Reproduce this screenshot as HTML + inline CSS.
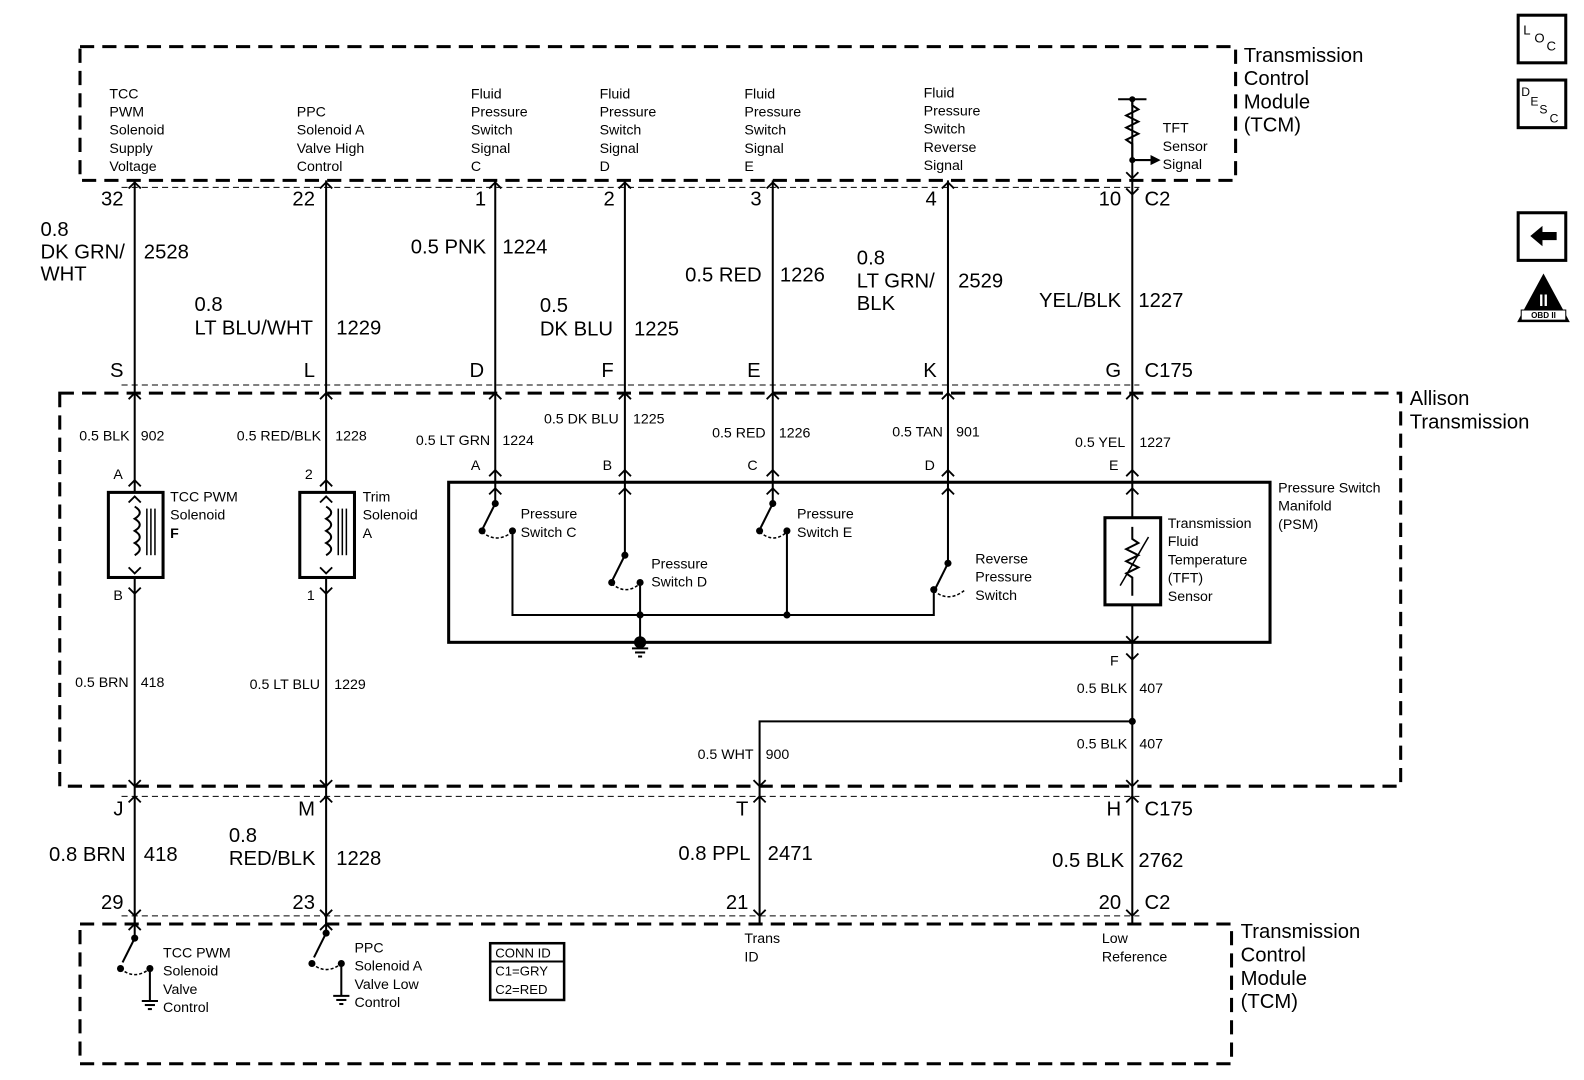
<!DOCTYPE html>
<html><head><meta charset="utf-8"><style>
html,body{margin:0;padding:0;background:#fff;}
svg{display:block;}
text{font-family:"Liberation Sans",Arial,sans-serif;fill:#000;}
.s{font-size:14px;}
.l{font-size:20px;}
.t{font-size:20px;}
</style></head><body>
<svg width="1584" height="1080" viewBox="0 0 1564 1066" preserveAspectRatio="none" xmlns="http://www.w3.org/2000/svg">
<g fill="none" stroke="#000">
<rect x="79" y="46" width="1141" height="132" stroke-width="3" stroke-dasharray="14,8"/>
<rect x="59" y="388" width="1324" height="388" stroke-width="3" stroke-dasharray="14,8"/>
<rect x="79" y="912" width="1137" height="138" stroke-width="3" stroke-dasharray="14,8"/>
<line x1="120" y1="185" x2="1125" y2="185" stroke-width="1" stroke-dasharray="6,4"/>
<line x1="120" y1="380" x2="1125" y2="380" stroke-width="1" stroke-dasharray="6,4"/>
<line x1="120" y1="786" x2="1125" y2="786" stroke-width="1" stroke-dasharray="6,4"/>
<line x1="120" y1="904" x2="1125" y2="904" stroke-width="1" stroke-dasharray="6,4"/>
<g stroke-width="2">
<line x1="133" y1="178" x2="133" y2="486"/>
<line x1="322" y1="178" x2="322" y2="486"/>
<line x1="489" y1="178" x2="489" y2="497"/>
<line x1="617" y1="178" x2="617" y2="548"/>
<line x1="763" y1="178" x2="763" y2="497"/>
<line x1="936" y1="178" x2="936" y2="556"/>
<line x1="1118" y1="98" x2="1118" y2="511"/>
<line x1="1118" y1="597" x2="1118" y2="912"/>
<line x1="133" y1="570" x2="133" y2="912"/>
<line x1="322" y1="570" x2="322" y2="912"/>
<polyline points="1118,712 750,712 750,912"/>
</g>
<rect x="107" y="486" width="54" height="84" stroke-width="3"/>
<rect x="296" y="486" width="54" height="84" stroke-width="3"/>
<path d="M133,500 q10,6 0,12 q10,6 0,12 q10,6 0,12 q10,6 0,12" stroke-width="2" fill="#fff"/>
<path d="M322,500 q10,6 0,12 q10,6 0,12 q10,6 0,12 q10,6 0,12" stroke-width="2" fill="#fff"/>
<g stroke-width="1.5">
<line x1="145" y1="502" x2="145" y2="548"/><line x1="149" y1="502" x2="149" y2="548"/><line x1="153" y1="502" x2="153" y2="548"/>
<line x1="334" y1="502" x2="334" y2="548"/><line x1="338" y1="502" x2="338" y2="548"/><line x1="342" y1="502" x2="342" y2="548"/>
</g>
<rect x="443" y="476" width="811" height="158" stroke-width="3"/>
<g stroke-width="2">
<line x1="489" y1="497" x2="477" y2="521"/>
<line x1="763" y1="497" x2="751" y2="521"/>
<line x1="617" y1="548" x2="605" y2="572"/>
<line x1="936" y1="556" x2="924" y2="580"/>
<polyline points="506,524 506,607 922,607 922,582"/>
<line x1="632" y1="575" x2="632" y2="634"/>
<line x1="777" y1="524" x2="777" y2="607"/>
</g>
<g stroke-width="1.5" stroke-dasharray="3,2">
<path d="M476,525 q14,12 30,0"/>
<path d="M750,525 q14,12 27,0"/>
<path d="M604,576 q14,12 28,0"/>
<path d="M922,583 q14,12 30,0"/>
</g>
<g stroke-width="2">
<line x1="624" y1="640" x2="640" y2="640"/><line x1="627" y1="644" x2="637" y2="644"/><line x1="630" y1="648" x2="634" y2="648"/>
</g>
<rect x="1091" y="511" width="55" height="86" stroke-width="3"/>
<path d="M1118,520 l0,12 l6,4 l-12,6 l12,6 l-12,6 l12,6 l-12,6 l6,4 l0,18" stroke-width="2"/>
<line x1="1106" y1="578" x2="1134" y2="530" stroke-width="1.5"/>
<line x1="1104" y1="98" x2="1132" y2="98" stroke-width="2"/>
<path d="M1118,98 l0,6 l6,4 l-12,6 l12,6 l-12,6 l12,6 l-12,6 l6,4 l0,14" stroke-width="2" fill="none"/>
<line x1="1118" y1="158" x2="1136" y2="158" stroke-width="2"/>
<g stroke-width="2">
<line x1="133" y1="904" x2="133" y2="926"/>
<line x1="133" y1="926" x2="121" y2="950"/>
<line x1="148" y1="955" x2="148" y2="988"/>
<line x1="140" y1="988" x2="156" y2="988"/><line x1="143" y1="992" x2="153" y2="992"/><line x1="146" y1="996" x2="150" y2="996"/>
<line x1="322" y1="904" x2="322" y2="921"/>
<line x1="322" y1="921" x2="310" y2="945"/>
<line x1="337" y1="950" x2="337" y2="983"/>
<line x1="329" y1="983" x2="345" y2="983"/><line x1="332" y1="987" x2="342" y2="987"/><line x1="335" y1="991" x2="339" y2="991"/>
</g>
<g stroke-width="1.5" stroke-dasharray="3,2">
<path d="M119,956 q14,12 29,0"/>
<path d="M308,951 q14,12 29,0"/>
</g>
<rect x="484" y="931" width="73" height="56" stroke-width="2.5"/>
<line x1="484" y1="949" x2="557" y2="949" stroke-width="2"/>
<g stroke-width="1.8">
<path d="M127,186 l6,-6 l6,6 M316,186 l6,-6 l6,6 M483,186 l6,-6 l6,6 M611,186 l6,-6 l6,6 M757,186 l6,-6 l6,6 M930,186 l6,-6 l6,6 M1112,186 l6,6 l6,-6"/>
<path d="M127,394 l6,-6 l6,6 M316,394 l6,-6 l6,6 M483,394 l6,-6 l6,6 M611,394 l6,-6 l6,6 M757,394 l6,-6 l6,6 M930,394 l6,-6 l6,6 M1112,394 l6,-6 l6,6"/>
<path d="M127,480 l6,-6 l6,6 M316,480 l6,-6 l6,6 M483,470 l6,-6 l6,6 M611,470 l6,-6 l6,6 M757,470 l6,-6 l6,6 M930,470 l6,-6 l6,6 M1112,470 l6,-6 l6,6"/>
<path d="M127,496 l6,-6 l6,6 M316,496 l6,-6 l6,6 M483,488 l6,-6 l6,6 M611,488 l6,-6 l6,6 M757,488 l6,-6 l6,6 M930,488 l6,-6 l6,6 M1112,488 l6,-6 l6,6"/>
<path d="M127,560 l6,6 l6,-6 M316,560 l6,6 l6,-6 M1112,628 l6,6 l6,-6"/>
<path d="M127,580 l6,6 l6,-6 M316,580 l6,6 l6,-6 M1112,645 l6,6 l6,-6"/>
<path d="M127,770 l6,6 l6,-6 M316,770 l6,6 l6,-6 M744,770 l6,6 l6,-6 M1112,770 l6,6 l6,-6"/>
<path d="M127,792 l6,-6 l6,6 M316,792 l6,-6 l6,6 M744,792 l6,-6 l6,6 M1112,792 l6,-6 l6,6"/>
<path d="M127,898 l6,6 l6,-6 M316,898 l6,6 l6,-6 M744,898 l6,6 l6,-6 M1112,898 l6,6 l6,-6"/>
<path d="M127,918 l6,-6 l6,6 M316,918 l6,-6 l6,6"/>
<path d="M1112,170 l6,6 l6,-6"/>
</g>
<rect x="1499" y="15" width="47" height="47" stroke-width="3"/>
<rect x="1499" y="79" width="47" height="47" stroke-width="3"/>
<rect x="1499" y="210" width="47" height="47" stroke-width="3"/>
</g>
<g fill="#000">
<circle cx="1118" cy="98" r="3"/><circle cx="1118" cy="158" r="3"/>
<polygon points="1136,153 1146,158 1136,163"/>
<circle cx="489" cy="497" r="3.5"/><circle cx="476" cy="524" r="3.5"/><circle cx="506" cy="524" r="3.5"/>
<circle cx="763" cy="497" r="3.5"/><circle cx="750" cy="524" r="3.5"/><circle cx="777" cy="524" r="3.5"/>
<circle cx="617" cy="548" r="3.5"/><circle cx="604" cy="575" r="3.5"/><circle cx="632" cy="575" r="3.5"/>
<circle cx="936" cy="556" r="3.5"/><circle cx="922" cy="582" r="3.5"/>
<circle cx="632" cy="607" r="3.5"/><circle cx="777" cy="607" r="3.5"/>
<circle cx="632" cy="634" r="6"/>
<circle cx="1118" cy="712" r="3.5"/>
<circle cx="133" cy="926" r="3.5"/><circle cx="119" cy="956" r="3.5"/><circle cx="148" cy="956" r="3.5"/>
<circle cx="322" cy="921" r="3.5"/><circle cx="308" cy="951" r="3.5"/><circle cx="337" cy="951" r="3.5"/>
<polygon points="1511,233 1523,223 1523,229 1537,229 1537,237 1523,237 1523,243"/>
<polygon points="1524,270 1498,318 1550,318"/>
</g>
<rect x="1502" y="306" width="44" height="10" fill="#fff" stroke="#000" stroke-width="1"/>
<text x="1524" y="314" font-size="8" text-anchor="middle" font-weight="bold">OBD II</text>
<text x="1524" y="302" font-size="16" text-anchor="middle" font-weight="bold" style="fill:#fff">II</text>
<text x="1504" y="34" font-size="13">L</text><text x="1515" y="42" font-size="13">O</text><text x="1527" y="50" font-size="13">C</text>
<text x="1502" y="95" font-size="12">D</text><text x="1511" y="104" font-size="12">E</text><text x="1520" y="112" font-size="12">S</text><text x="1530" y="121" font-size="12">C</text>

<g class="s">
<text x="108" y="97">TCC</text><text x="108" y="115">PWM</text><text x="108" y="133">Solenoid</text><text x="108" y="151">Supply</text><text x="108" y="169">Voltage</text>
<text x="293" y="115">PPC</text><text x="293" y="133">Solenoid A</text><text x="293" y="151">Valve High</text><text x="293" y="169">Control</text>
<text x="465" y="97">Fluid</text><text x="465" y="115">Pressure</text><text x="465" y="133">Switch</text><text x="465" y="151">Signal</text><text x="465" y="169">C</text>
<text x="592" y="97">Fluid</text><text x="592" y="115">Pressure</text><text x="592" y="133">Switch</text><text x="592" y="151">Signal</text><text x="592" y="169">D</text>
<text x="735" y="97">Fluid</text><text x="735" y="115">Pressure</text><text x="735" y="133">Switch</text><text x="735" y="151">Signal</text><text x="735" y="169">E</text>
<text x="912" y="96">Fluid</text><text x="912" y="114">Pressure</text><text x="912" y="132">Switch</text><text x="912" y="150">Reverse</text><text x="912" y="168">Signal</text>
<text x="1148" y="131">TFT</text><text x="1148" y="149">Sensor</text><text x="1148" y="167">Signal</text>
</g>
<g class="t">
<text x="1228" y="61">Transmission</text><text x="1228" y="84">Control</text><text x="1228" y="107">Module</text><text x="1228" y="130">(TCM)</text>
<text x="1392" y="400">Allison</text><text x="1392" y="423">Transmission</text>
<text x="1225" y="926">Transmission</text><text x="1225" y="949">Control</text><text x="1225" y="972">Module</text><text x="1225" y="995">(TCM)</text>
</g>
<g class="l">
<text x="122" y="203" text-anchor="end">32</text><text x="311" y="203" text-anchor="end">22</text><text x="480" y="203" text-anchor="end">1</text><text x="607" y="203" text-anchor="end">2</text><text x="752" y="203" text-anchor="end">3</text><text x="925" y="203" text-anchor="end">4</text><text x="1107" y="203" text-anchor="end">10</text><text x="1130" y="203">C2</text>
<text x="40" y="233">0.8</text><text x="40" y="255">DK GRN/</text><text x="40" y="277">WHT</text><text x="142" y="255">2528</text>
<text x="192" y="307">0.8</text><text x="192" y="330">LT BLU/WHT</text><text x="332" y="330">1229</text>
<text x="480" y="250" text-anchor="end">0.5 PNK</text><text x="496" y="250">1224</text>
<text x="533" y="308">0.5</text><text x="533" y="331">DK BLU</text><text x="626" y="331">1225</text>
<text x="752" y="278" text-anchor="end">0.5 RED</text><text x="770" y="278">1226</text>
<text x="846" y="261">0.8</text><text x="846" y="284">LT GRN/</text><text x="846" y="306">BLK</text><text x="946" y="284">2529</text>
<text x="1107" y="303" text-anchor="end">YEL/BLK</text><text x="1124" y="303">1227</text>
<text x="122" y="372" text-anchor="end">S</text><text x="311" y="372" text-anchor="end">L</text><text x="478" y="372" text-anchor="end">D</text><text x="606" y="372" text-anchor="end">F</text><text x="751" y="372" text-anchor="end">E</text><text x="925" y="372" text-anchor="end">K</text><text x="1107" y="372" text-anchor="end">G</text><text x="1130" y="372">C175</text>
<text x="122" y="805" text-anchor="end">J</text><text x="311" y="805" text-anchor="end">M</text><text x="739" y="805" text-anchor="end">T</text><text x="1107" y="805" text-anchor="end">H</text><text x="1130" y="805">C175</text>
<text x="124" y="850" text-anchor="end">0.8 BRN</text><text x="142" y="850">418</text>
<text x="226" y="831">0.8</text><text x="226" y="854">RED/BLK</text><text x="332" y="854">1228</text>
<text x="741" y="849" text-anchor="end">0.8 PPL</text><text x="758" y="849">2471</text>
<text x="1110" y="856" text-anchor="end">0.5 BLK</text><text x="1124" y="856">2762</text>
<text x="122" y="897" text-anchor="end">29</text><text x="311" y="897" text-anchor="end">23</text><text x="739" y="897" text-anchor="end">21</text><text x="1107" y="897" text-anchor="end">20</text><text x="1130" y="897">C2</text>
</g>
<g class="s">
<text x="128" y="435" text-anchor="end">0.5 BLK</text><text x="139" y="435">902</text>
<text x="317" y="435" text-anchor="end">0.5 RED/BLK</text><text x="331" y="435">1228</text>
<text x="484" y="439" text-anchor="end">0.5 LT GRN</text><text x="496" y="439">1224</text>
<text x="611" y="418" text-anchor="end">0.5 DK BLU</text><text x="625" y="418">1225</text>
<text x="756" y="432" text-anchor="end">0.5 RED</text><text x="769" y="432">1226</text>
<text x="931" y="431" text-anchor="end">0.5 TAN</text><text x="944" y="431">901</text>
<text x="1111" y="441" text-anchor="end">0.5 YEL</text><text x="1125" y="441">1227</text>
<text x="112" y="473">A</text><text x="301" y="473">2</text><text x="465" y="464">A</text><text x="595" y="464">B</text><text x="738" y="464">C</text><text x="913" y="464">D</text><text x="1095" y="464">E</text>
<text x="168" y="495">TCC PWM</text><text x="168" y="513">Solenoid</text><text x="168" y="531" font-weight="bold">F</text>
<text x="358" y="495">Trim</text><text x="358" y="513">Solenoid</text><text x="358" y="531">A</text>
<text x="112" y="592">B</text><text x="303" y="592">1</text>
<text x="127" y="678" text-anchor="end">0.5 BRN</text><text x="139" y="678">418</text>
<text x="316" y="680" text-anchor="end">0.5 LT BLU</text><text x="330" y="680">1229</text>
<text x="1262" y="486">Pressure Switch</text><text x="1262" y="504">Manifold</text><text x="1262" y="522">(PSM)</text>
<text x="514" y="512">Pressure</text><text x="514" y="530">Switch C</text>
<text x="643" y="561">Pressure</text><text x="643" y="579">Switch D</text>
<text x="787" y="512">Pressure</text><text x="787" y="530">Switch E</text>
<text x="963" y="556">Reverse</text><text x="963" y="574">Pressure</text><text x="963" y="592">Switch</text>
<text x="1153" y="521">Transmission</text><text x="1153" y="539">Fluid</text><text x="1153" y="557">Temperature</text><text x="1153" y="575">(TFT)</text><text x="1153" y="593">Sensor</text>
<text x="1096" y="657">F</text>
<text x="1113" y="684" text-anchor="end">0.5 BLK</text><text x="1125" y="684">407</text>
<text x="1113" y="739" text-anchor="end">0.5 BLK</text><text x="1125" y="739">407</text>
<text x="744" y="749" text-anchor="end">0.5 WHT</text><text x="756" y="749">900</text>
<text x="161" y="945">TCC PWM</text><text x="161" y="963">Solenoid</text><text x="161" y="981">Valve</text><text x="161" y="999">Control</text>
<text x="350" y="940">PPC</text><text x="350" y="958">Solenoid A</text><text x="350" y="976">Valve Low</text><text x="350" y="994">Control</text>
<text x="489" y="945" font-size="13">CONN ID</text><text x="489" y="963" font-size="13">C1=GRY</text><text x="489" y="981" font-size="13">C2=RED</text>
<text x="735" y="931">Trans</text><text x="735" y="949">ID</text>
<text x="1088" y="931">Low</text><text x="1088" y="949">Reference</text>
</g>
</svg>
</body></html>
